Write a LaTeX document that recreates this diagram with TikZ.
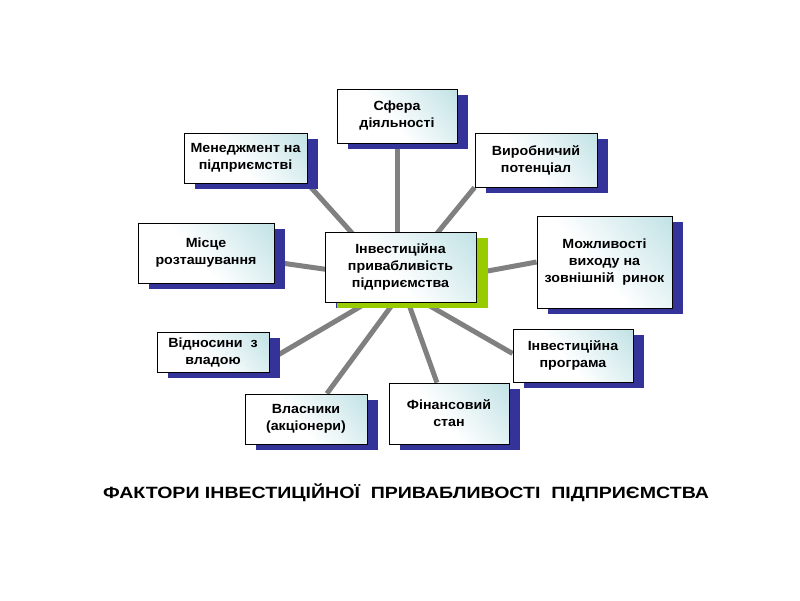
\documentclass[tikz,border=0pt]{standalone}
\usepackage{fontspec}
\setmainfont{Liberation Sans}
\newfontfamily\boxfont[FakeStretch=1.07]{Liberation Sans}
\newfontfamily\titlefont[FakeStretch=1.2]{Liberation Sans}
\usetikzlibrary{shadows,backgrounds,calc}
\definecolor{sb}{RGB}{51,51,153}
\definecolor{sg}{RGB}{153,204,0}
\definecolor{bt}{RGB}{170,215,220}
\definecolor{ln}{RGB}{128,128,128}
\pgfdeclarehorizontalshading{boxsh}{100bp}{color(0bp)=(white); color(45bp)=(white); color(100bp)=(bt)}
\tikzset{
  fbox/.style={draw=black, line width=0.9pt, shading=boxsh, shading angle=40,
    align=center, inner sep=0pt, font=\boxfont\bfseries\fontsize{13.3}{17}\selectfont,
    general shadow={fill=sb, shadow xshift=11pt, shadow yshift=-6pt}},
  cbox/.style={fbox, general shadow={fill=sg, shadow xshift=12pt, shadow yshift=-6pt}},
  conn/.style={draw=ln, line width=5pt}
}
\begin{document}
\begin{tikzpicture}[x=1pt,y=-1pt]
\useasboundingbox (0,0) rectangle (800,600);
\node[cbox, minimum width=151pt, minimum height=70pt] (c) at (400.5,267) {Інвестиційна\\привабливість\\підприємства};
\node[fbox, minimum width=120pt, minimum height=54pt] (s) at (397,116) {Сфера\\діяльності};
\node[fbox, minimum width=123pt, minimum height=50pt] (m) at (245.5,158) {Менеджмент на\\підприємстві};
\node[fbox, minimum width=122pt, minimum height=54pt] (v) at (536,160) {Виробничий\\потенціал};
\node[fbox, minimum width=135pt, minimum height=92pt] (mo) at (604.5,262) {Можливості\\виходу на\\зовнішній\ \ ринок};
\node[fbox, minimum width=136pt, minimum height=60pt] (mi) at (206,253) {Місце\\розташування};
\node[fbox, minimum width=112pt, minimum height=40pt] (vi) at (213,352) {Відносини\ \ з\\владою};
\node[fbox, minimum width=122pt, minimum height=50pt] (vl) at (306,419) {Власники\\(акціонери)};
\node[fbox, minimum width=120pt, minimum height=61pt] (f) at (449,413.5) {Фінансовий\\стан};
\node[fbox, minimum width=120pt, minimum height=53pt] (ip) at (573,355.5) {Інвестиційна\\програма};
\node[font=\titlefont\bfseries\fontsize{16.3}{19}\selectfont] (t) at (406,493) {ФАКТОРИ ІНВЕСТИЦІЙНОЇ\ \ ПРИВАБЛИВОСТІ\ \ ПІДПРИЄМСТВА};
\begin{scope}[on background layer]
\draw[conn] (c.center -| s.south) -- (s.south);
\draw[conn] ([xshift=-18pt]c.center) -- (m.south east);
\draw[conn] ([xshift=9pt]c.center) -- (v.south west);
\draw[conn] ([yshift=-20pt]c.center) -- ([yshift=0pt]mo.west);
\draw[conn] ([yshift=-13pt]c.center) -- ([yshift=-9pt]mi.east);
\draw[conn] ([yshift=-16pt]c.center) -- ([yshift=-8pt]vi.east);
\draw[conn] ([xshift=10pt,yshift=-13pt]c.center) -- ($(vl.north west)!0.67!(vl.north east)$);
\draw[conn] ([xshift=-5pt]c.center) -- ($(f.north west)!0.4!(f.north east)$);
\draw[conn] ([yshift=-22pt]c.center) -- ([yshift=2pt]ip.west);
\end{scope}
\end{tikzpicture}
\end{document}
